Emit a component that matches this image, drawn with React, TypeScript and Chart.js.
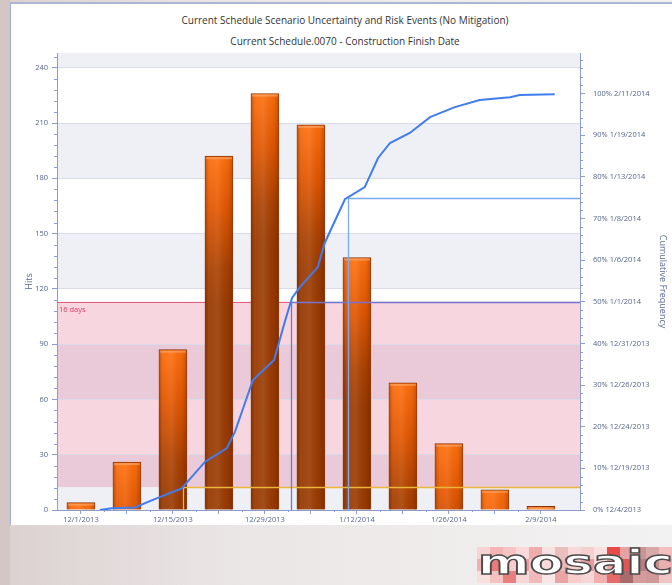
import React, { useEffect, useRef } from "react";
import { Chart, registerables } from "chart.js";

Chart.register(...registerables);

// ---- data ----
const weekLabels = [
  "12/1/2013", "12/8/2013", "12/15/2013", "12/22/2013", "12/29/2013", "1/5/2014",
  "1/12/2014", "1/19/2014", "1/26/2014", "2/2/2014", "2/9/2014",
];
const hits = [4, 26, 87, 192, 226, 209, 137, 69, 36, 11, 2];
const cumX = [
  0.41, 0.67, 1.17, 1.67, 2.19, 2.7, 3.17, 3.35, 3.74, 4.2, 4.43, 4.59, 4.76,
  5.15, 5.3, 5.74, 6.17, 6.46, 6.72, 7.15, 7.59, 8.13, 8.67, 9.33, 9.54, 10.3,
];
const cumPct = [
  0, 0.4, 0.6, 2.9, 5.2, 11.6, 14.8, 18.8, 31.2, 36, 45.1, 50.9, 53.5,
  58.3, 64.1, 74.6, 77.5, 84.5, 88.1, 90.5, 94.3, 96.7, 98.4, 99.1, 99.6, 99.8,
];
const hitsTicks = [0, 30, 60, 90, 120, 150, 180, 210, 240];
const cumTicks = [0, 10, 20, 30, 40, 50, 60, 70, 80, 90, 100];
const cumTickLabels = [
  "0% 12/4/2013", "10% 12/19/2013", "20% 12/24/2013", "30% 12/26/2013", "40% 12/31/2013",
  "50% 1/1/2014", "60% 1/6/2014", "70% 1/8/2014", "80% 1/13/2014", "90% 1/19/2014",
  "100% 2/11/2014",
];
const bandLowPct = 5.5;
const bandHighPct = 50;
const bandLabel = "16 days";
const markerPcts = [5.5, 50, 75];
const markerColors = ["#e9b53a", "#7474d0", "#79aaf8"];

const AXIS = "#8d9ccb";
const TICKTXT = "#56648a";
const FONT = "'Open Sans', 'Noto Sans', sans-serif";

function crossX(p: number): number {
  for (let i = 0; i < cumPct.length - 1; i++) {
    if (cumPct[i] <= p && cumPct[i + 1] >= p) {
      const t = (p - cumPct[i]) / (cumPct[i + 1] - cumPct[i] || 1);
      return cumX[i] + t * (cumX[i + 1] - cumX[i]);
    }
  }
  return cumX[cumX.length - 1];
}

const bandPlugin = {
  id: "bands",
  beforeDraw(chart: any) {
    const { ctx, chartArea: a, scales } = chart;
    const y = scales.y;
    const y1 = scales.y1;
    ctx.save();
    ctx.fillStyle = "#ffffff";
    ctx.fillRect(a.left, a.top, a.width, a.height);
    for (let v = 0; v < y.max; v += 30) {
      if (Math.round(v / 30) % 2 === 0) {
        const top = Math.max(y.getPixelForValue(Math.min(v + 30, y.max)), a.top);
        const bot = y.getPixelForValue(v);
        ctx.fillStyle = "#eef0f6";
        ctx.fillRect(a.left, top, a.width, bot - top);
      }
    }
    const pt = y1.getPixelForValue(bandHighPct);
    const pb = y1.getPixelForValue(bandLowPct);
    ctx.fillStyle = "rgba(222,70,112,0.22)";
    ctx.fillRect(a.left, pt, a.width, pb - pt);
    ctx.restore();
  },
  beforeDatasetsDraw(chart: any) {
    const { ctx, chartArea: a, scales } = chart;
    const pt = Math.round(scales.y1.getPixelForValue(bandHighPct)) + 0.5;
    ctx.save();
    ctx.strokeStyle = "#e0607e";
    ctx.lineWidth = 1;
    ctx.beginPath();
    ctx.moveTo(a.left, pt);
    ctx.lineTo(a.right, pt);
    ctx.stroke();
    ctx.fillStyle = "#d8406a";
    ctx.font = `7.5px ${FONT}`;
    ctx.textBaseline = "middle";
    ctx.fillText(bandLabel, a.left + 2, pt + 7);
    ctx.restore();
  },
  afterDatasetDraw(chart: any, args: any) {
    if (args.index !== 0) return;
    const { ctx, chartArea: a, scales } = chart;
    ctx.save();
    // cylinder-like shading on the bars
    args.meta.data.forEach((el: any) => {
      const { x, y, base, width } = el.getProps(["x", "y", "base", "width"], true);
      const l = x - width / 2 + 1;
      const w = width - 2;
      const g = ctx.createLinearGradient(l, 0, l + w, 0);
      g.addColorStop(0, "rgba(60,20,0,0.22)");
      g.addColorStop(0.18, "rgba(255,255,255,0.06)");
      g.addColorStop(0.45, "rgba(255,255,255,0.10)");
      g.addColorStop(0.85, "rgba(60,20,0,0.05)");
      g.addColorStop(1, "rgba(60,20,0,0.25)");
      ctx.fillStyle = g;
      ctx.fillRect(l, y + 1, w, base - y - 1);
      ctx.fillStyle = "rgba(255,190,140,0.45)";
      ctx.fillRect(l, y + 1, w, Math.min(2, base - y - 1));
    });
    ctx.lineWidth = 1.3;
    markerPcts.forEach((p, k) => {
      const px = Math.round(scales.x.getPixelForValue(crossX(p))) + 0.5;
      const py = Math.round(scales.y1.getPixelForValue(p)) + 0.5;
      ctx.strokeStyle = markerColors[k];
      ctx.beginPath();
      ctx.moveTo(px, a.bottom);
      ctx.lineTo(px, py);
      ctx.lineTo(a.right, py);
      ctx.stroke();
    });
    ctx.restore();
  },
  afterDraw(chart: any) {
    const { ctx, chartArea: a, scales } = chart;
    ctx.save();
    ctx.strokeStyle = AXIS;
    ctx.lineWidth = 1;
    ctx.beginPath();
    for (let v = 6; v < scales.y.max; v += 6) {
      if (v % 30 === 0) continue;
      const py = Math.round(scales.y.getPixelForValue(v)) + 0.5;
      ctx.moveTo(a.left - 3, py);
      ctx.lineTo(a.left, py);
    }
    for (let v = 2; v < scales.y1.max; v += 2) {
      if (v % 10 === 0) continue;
      const py = Math.round(scales.y1.getPixelForValue(v)) + 0.5;
      ctx.moveTo(a.right, py);
      ctx.lineTo(a.right + 3, py);
    }
    for (let i = 0; i < weekLabels.length - 1; i++) {
      const px = Math.round(scales.x.getPixelForValue(i + 0.5)) + 0.5;
      ctx.moveTo(px, a.bottom);
      ctx.lineTo(px, a.bottom + 2);
    }
    ctx.stroke();
    ctx.restore();
  },
};

function barFill(c: any) {
  const chart = c.chart;
  if (c.dataIndex === undefined || !chart.chartArea) return "#e05a00";
  const y = chart.scales.y;
  const top = y.getPixelForValue(hits[c.dataIndex]);
  const g = chart.ctx.createLinearGradient(0, top, 0, top + 150);
  g.addColorStop(0, "#ff6e0c");
  g.addColorStop(0.35, "#e25600");
  g.addColorStop(0.75, "#aa4000");
  g.addColorStop(1, "#993900");
  return g;
}

export default function App() {
  const ref = useRef<HTMLCanvasElement | null>(null);

  useEffect(() => {
    if (!ref.current) return;
    const tickFont = { family: FONT, size: 7.5 };
    const chart = new Chart(ref.current, {
      type: "bar",
      data: {
        datasets: [
          {
            type: "bar",
            data: hits.map((v, i) => ({ x: i, y: v })),
            yAxisID: "y",
            xAxisID: "x",
            barThickness: 28,
            backgroundColor: barFill as any,
            borderColor: "#8a3508",
            borderWidth: 1,
            order: 1,
          } as any,
          {
            type: "line",
            data: cumX.map((x, i) => ({ x, y: cumPct[i] })),
            yAxisID: "y1",
            xAxisID: "x",
            borderColor: "#3f7df0",
            borderWidth: 2,
            pointRadius: 0,
            tension: 0,
            order: 0,
          } as any,
        ],
      },
      options: {
        responsive: false,
        animation: false,
        layout: { padding: { left: 20, right: 0, top: 53, bottom: 55 } },
        plugins: {
          legend: { display: false },
          tooltip: { enabled: false },
          title: { display: false },
        },
        scales: {
          x: {
            type: "linear",
            offset: false,
            min: -0.52,
            max: 10.85,
            afterBuildTicks: (s: any) => {
              s.ticks = weekLabels.map((_, i) => ({ value: i }));
            },
            afterFit: (s: any) => {
              s.height = 20;
            },
            ticks: {
              autoSkip: false,
              maxRotation: 0,
              padding: 1,
              color: TICKTXT,
              font: tickFont,
              callback: (_v: any, i: number) => (i % 2 === 0 ? weekLabels[i] : ""),
            },
            grid: { drawOnChartArea: false, offset: false, tickLength: 4, tickColor: AXIS },
            border: { color: AXIS },
          },
          y: {
            type: "linear",
            position: "left",
            min: 0,
            max: 248,
            afterBuildTicks: (s: any) => {
              s.ticks = hitsTicks.map((v) => ({ value: v }));
            },
            afterFit: (s: any) => {
              s.width = 37;
            },
            ticks: { color: TICKTXT, font: tickFont, padding: 4 },
            grid: { color: "#d9dce8", tickLength: 5, tickColor: AXIS },
            border: { color: AXIS },
            title: {
              display: true,
              text: "Hits",
              color: "#5a6894",
              font: { family: FONT, size: 9 },
              padding: { top: 4, bottom: 0 },
            },
          },
          y1: {
            type: "linear",
            position: "right",
            min: 0,
            max: 109.7,
            afterBuildTicks: (s: any) => {
              s.ticks = cumTicks.map((v) => ({ value: v }));
            },
            afterFit: (s: any) => {
              s.width = 92;
            },
            ticks: {
              color: TICKTXT,
              font: tickFont,
              padding: 8,
              callback: (_v: any, i: number) => cumTickLabels[i],
            },
            grid: { drawOnChartArea: false, tickLength: 5, tickColor: AXIS },
            border: { color: AXIS },
            title: {
              display: true,
              text: "Cumulative Frequency",
              color: "#5a6894",
              font: { family: FONT, size: 9 },
              padding: { top: 4, bottom: 0 },
            },
          },
        },
      } as any,
      plugins: [bandPlugin as any],
    });
    return () => chart.destroy();
  }, []);

  const tileColors = [
    "#f9d3d3", "#f3b5b5", "#f6c4c4", "#fbd9d9", "#efacac", "#f8e1e1", "#ebbebe", "#f8d9d9",
    "#f6cfcf", "#fae1e1", "#e84a4a", "#e6a2a2", "#c99494", "#d9a9a9", "#f2c0c0",
    "#f2b0b0", "#e87a7a", "#f9cccc", "#ee9a9a", "#f4c9c9", "#fbdada", "#f0b6b6", "#f7d0d0",
    "#e99c9c", "#f9dcdc", "#f2a8a8", "#e05555", "#b78080", "#c48c8c", "#e8b0b0",
    "#fbdede", "#f5c2c2", "#e88080", "#f6d6d6", "#f1b9b9", "#fae6e6", "#eaa4a4", "#f7cccc",
    "#f5d5d5", "#f0b0b0", "#e66a6a", "#a86a6a", "#d69c9c", "#cf9999", "#f0c4c4",
  ];

  const titleStyle: React.CSSProperties = {
    position: "absolute",
    left: 0,
    width: 690,
    textAlign: "center",
    fontFamily: FONT,
    fontSize: 10,
    lineHeight: "16px",
    color: "#333333",
  };

  return (
    <div
      style={{
        position: "fixed",
        left: 0,
        top: 0,
        width: 672,
        height: 585,
        overflow: "hidden",
        background: "linear-gradient(90deg, #dcd1d1 0%, #ebe6e6 35%, #f3f2f2 100%)",
      }}
    >
      <div style={{ position: "absolute", left: 0, top: 0, width: 10, height: 585, background: "#d5c6c6" }} />
      <div
        style={{
          position: "absolute",
          left: 10,
          top: 2,
          width: 662,
          height: 523,
          background: "#ffffff",
          borderLeft: "1px solid #9fb0d8",
          borderTop: "2px solid #aab6d2",
          boxSizing: "border-box",
        }}
      />
      <div style={{ ...titleStyle, top: 12 }}>
        Current Schedule Scenario Uncertainty and Risk Events (No Mitigation)
      </div>
      <div style={{ ...titleStyle, top: 33 }}>Current Schedule.0070 - Construction Finish Date</div>
      <canvas ref={ref} width={672} height={585} style={{ position: "absolute", left: 0, top: 0 }} />
      <div
        style={{
          position: "absolute",
          left: 477,
          top: 547,
          width: 195,
          height: 36,
          display: "grid",
          gridTemplateColumns: "repeat(15, 13px)",
          gridTemplateRows: "repeat(3, 12px)",
        }}
      >
        {tileColors.map((c, i) => (
          <div key={i} style={{ background: c }} />
        ))}
      </div>
      <div
        style={{
          position: "absolute",
          left: 478,
          top: 545,
          fontFamily: "'DejaVu Sans', sans-serif",
          fontWeight: 700,
          fontSize: 33,
          lineHeight: "36px",
          color: "#ffffff",
          WebkitTextStroke: "1.3px #4a4a4a",
          transform: "scaleX(1.5)",
          transformOrigin: "left top",
          whiteSpace: "nowrap",
        }}
      >
        mosaic
      </div>
    </div>
  );
}
